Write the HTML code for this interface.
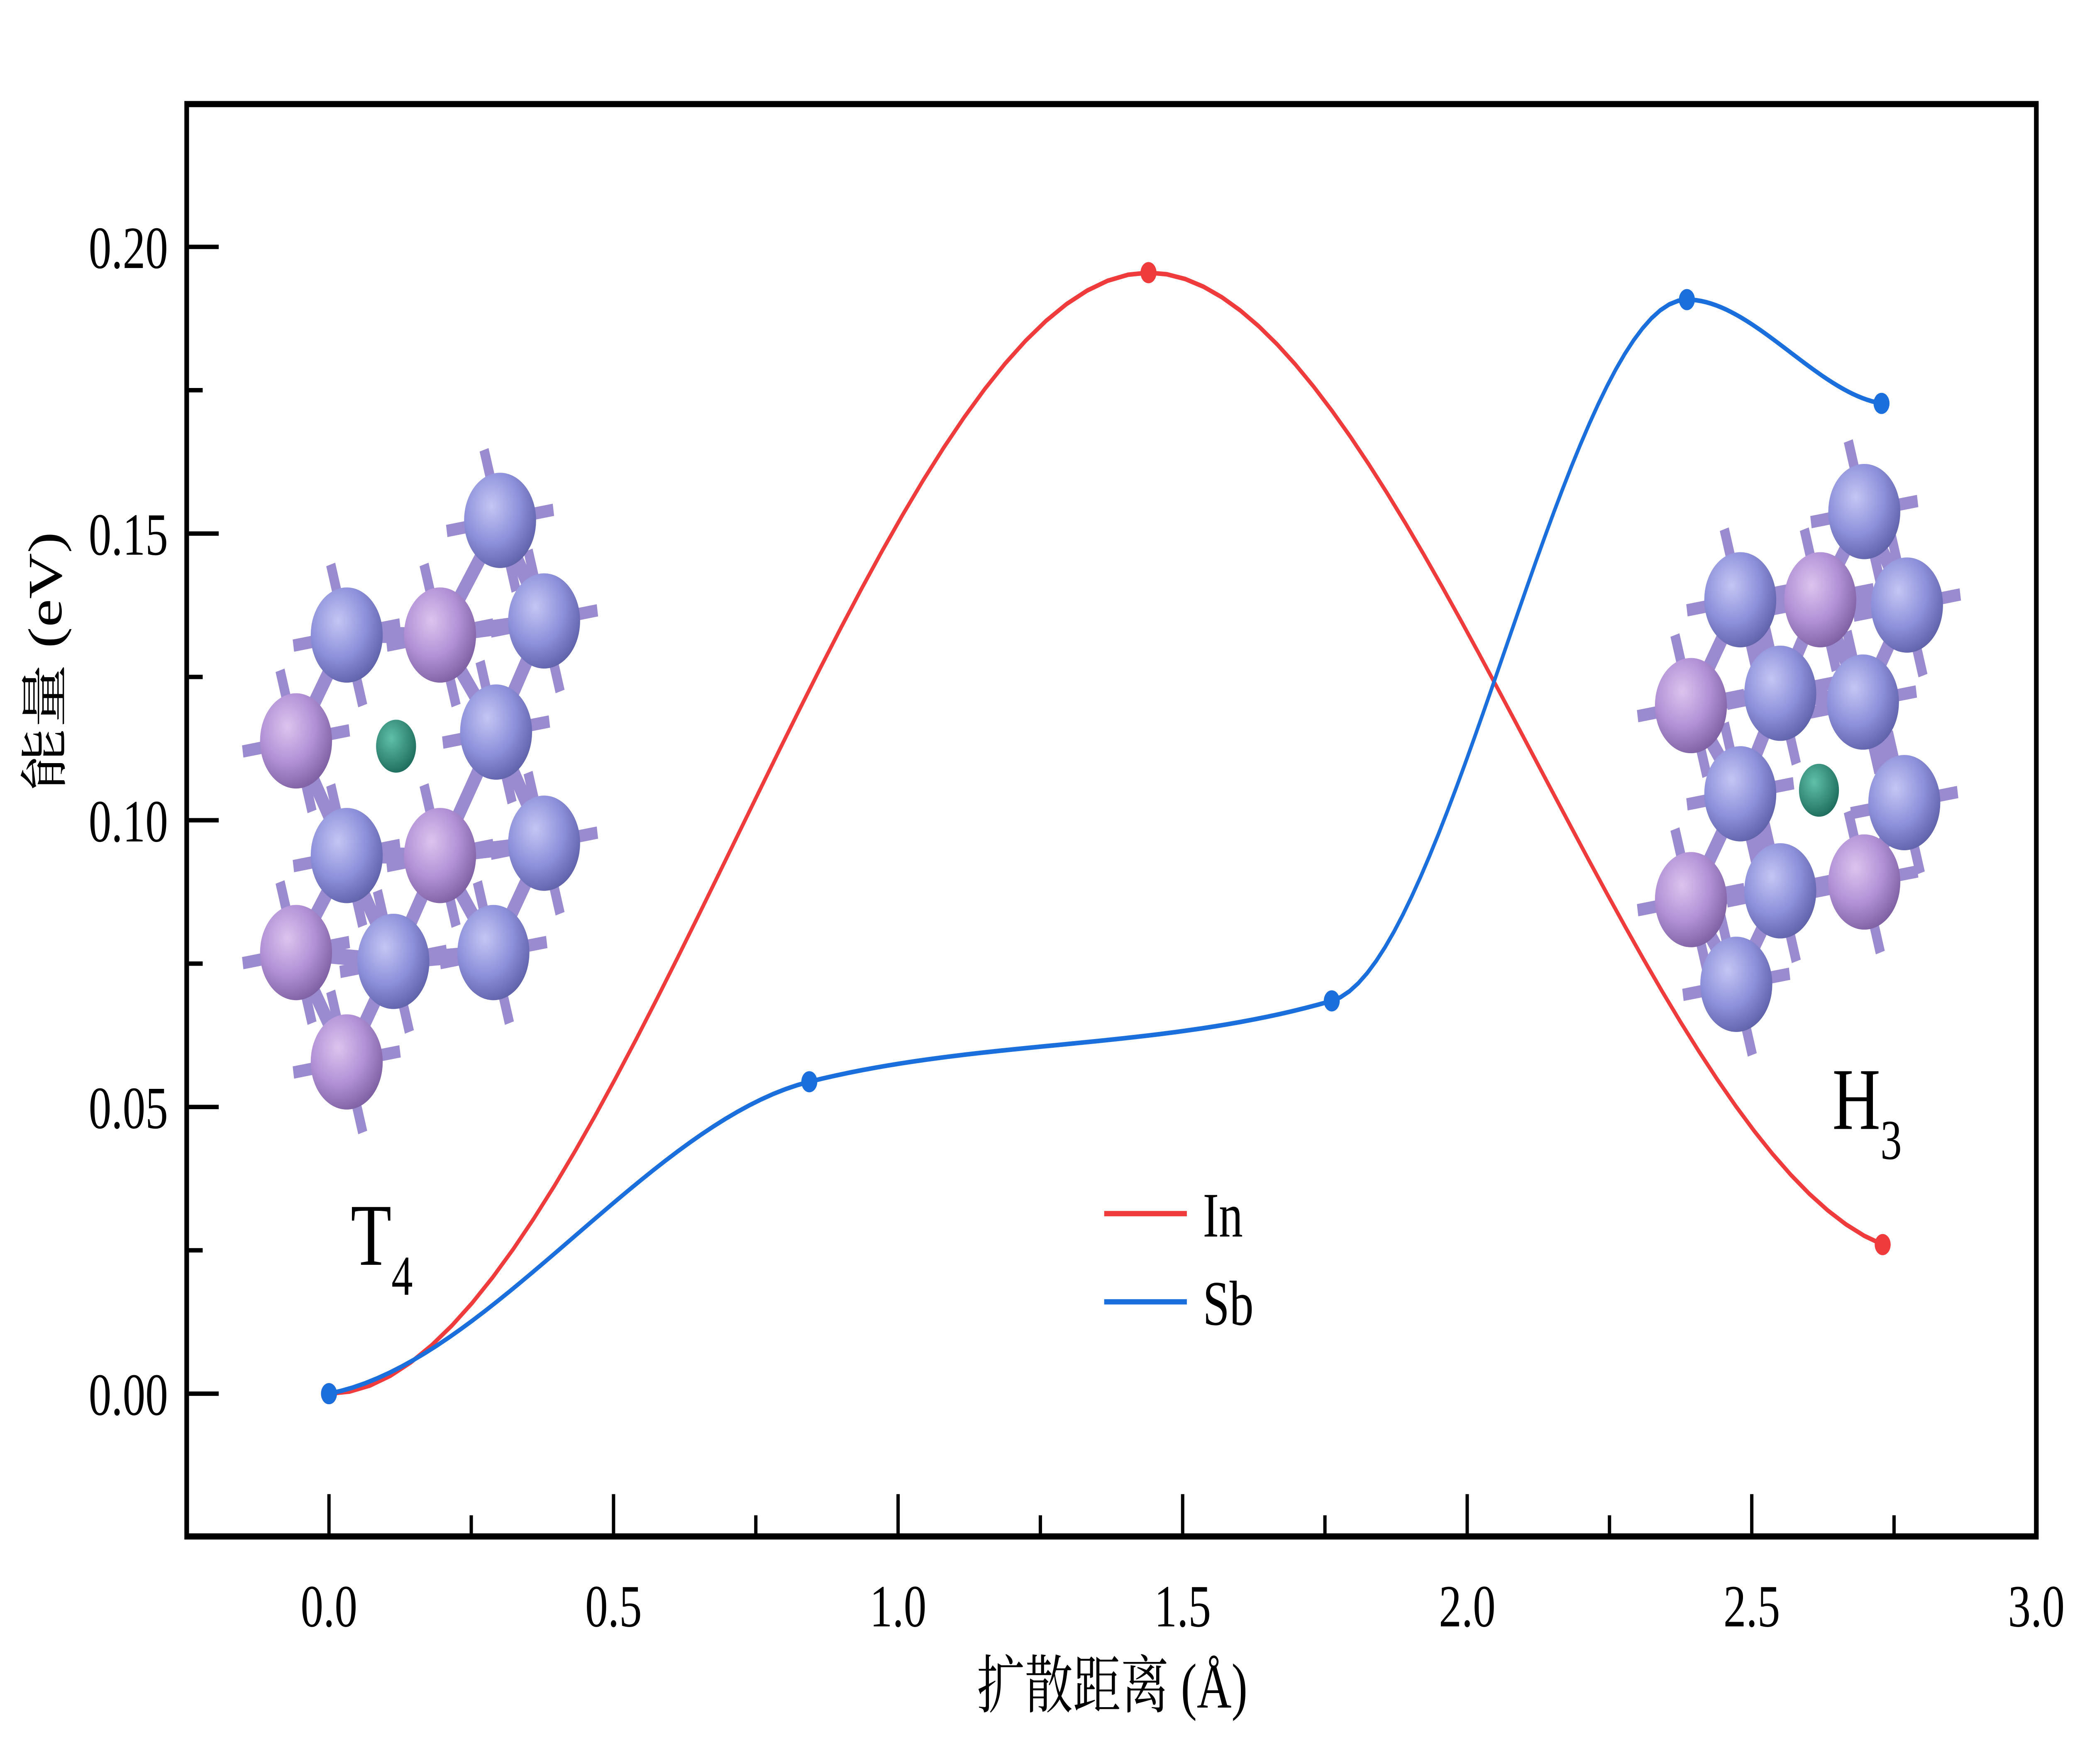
<!DOCTYPE html>
<html><head><meta charset="utf-8">
<style>
html,body{margin:0;padding:0;background:#fff;width:100%;height:100%;overflow:hidden;}
svg{display:block;position:fixed;left:0;top:0;width:100vw;height:100vh;}
text{font-family:"Liberation Serif","Noto Serif CJK SC",serif;fill:#000;}
</style></head><body>
<svg id="chart" viewBox="0 0 1556 1000" preserveAspectRatio="none" xmlns="http://www.w3.org/2000/svg">
<defs>
<radialGradient id="gBlue" cx="0.38" cy="0.35" r="0.7"><stop offset="0" stop-color="#c4c6f4"/><stop offset="0.55" stop-color="#8e91db"/><stop offset="1" stop-color="#5e60a8"/></radialGradient>
<radialGradient id="gPurp" cx="0.38" cy="0.35" r="0.7"><stop offset="0" stop-color="#dcc4ee"/><stop offset="0.55" stop-color="#b190d6"/><stop offset="1" stop-color="#7c5fa0"/></radialGradient>
<radialGradient id="gGreen" cx="0.38" cy="0.35" r="0.7"><stop offset="0" stop-color="#5fc0a8"/><stop offset="1" stop-color="#1d6b5c"/></radialGradient>
</defs>
<g id="mols"></g>
<g id="axes"></g>
<g id="series"></g>
<g id="labels"></g>
</svg>
<script>
const xTicks=[0.0,0.5,1.0,1.5,2.0,2.5,3.0];
const xTickLabels=["0.0","0.5","1.0","1.5","2.0","2.5","3.0"];
const yTicks=[0.00,0.05,0.10,0.15,0.20];
const yTickLabels=["0.00","0.05","0.10","0.15","0.20"];
const inX=[0,1.44,2.73];
const inY=[0,0.1955,0.026];
const sbX=[0,0.844,1.762,2.386,2.728];
const sbY=[0,0.0544,0.0685,0.1908,0.1727];

const NS="http://www.w3.org/2000/svg";
const L=140,R=1527,T=59,B=871;
const xMin=-0.25,xMax=3.0,yMin=-0.0249,yMax=0.2249;
function sx(v){return L+(v-xMin)/(xMax-xMin)*(R-L);}
function sy(v){return B-(v-yMin)/(yMax-yMin)*(B-T);}
function mk(tag,attrs,parent){const e=document.createElementNS(NS,tag);for(const k in attrs)e.setAttribute(k,attrs[k]);parent.appendChild(e);return e;}

const axes=document.getElementById('axes');
const frame=mk('rect',{x:L,y:T,width:R-L,height:B-T,fill:'none',stroke:'#000','stroke-width':3.5},axes);


for(let v=-0.25;v<=3.001;v+=0.25){
  const major=Math.abs(v*2-Math.round(v*2))<1e-6;
  const t=mk('line',{x1:sx(v),x2:sx(v),y1:B,y2:B-(major?24:12),stroke:'#000','stroke-width':2.5},axes);
  
  
}
for(let v=-0.025;v<=0.2251;v+=0.025){
  const major=Math.abs(v*20-Math.round(v*20))<1e-6;
  const t=mk('line',{x1:L,x2:L+(major?24:12),y1:sy(v),y2:sy(v),stroke:'#000','stroke-width':2.5},axes);
  
  
}
const labels=document.getElementById('labels');
xTicks.forEach((v,i)=>{
  const t=mk('text',{x:sx(v),y:922,'font-size':34,'text-anchor':'middle'},labels);
  t.textContent=xTickLabels[i];
  
  
});
yTicks.forEach((v,i)=>{
  const t=mk('text',{x:126,y:sy(v)+12,'font-size':34,'text-anchor':'end'},labels);
  t.textContent=yTickLabels[i];
  
  
});
let t=mk('text',{x:834,y:968,'font-size':36,'text-anchor':'middle'},labels);
t.textContent='扩散距离 (Å)';


t=mk('text',{x:0,y:0,'font-size':36,'text-anchor':'middle',transform:'translate(46,375) rotate(-90)'},labels);
t.textContent='能量 (eV)';



function curve(xs,ys){
  const n=xs.length,d=[],m=[];
  for(let i=0;i<n-1;i++)d.push((ys[i+1]-ys[i])/(xs[i+1]-xs[i]));
  m[0]=0;
  for(let i=1;i<n-1;i++){m[i]=(d[i-1]*d[i]<=0)?0:2/(1/d[i-1]+1/d[i]);}
  m[n-1]=d[n-2]*0.3;
  if(n>3){m[0]=d[0]*0.3;}
  let p='';
  for(let i=0;i<n-1;i++){
    const h=xs[i+1]-xs[i];
    for(let k=0;k<=40;k++){
      const s=k/40,h00=2*s*s*s-3*s*s+1,h10=s*s*s-2*s*s+s,h01=-2*s*s*s+3*s*s,h11=s*s*s-s*s;
      const x=xs[i]+s*h,y=h00*ys[i]+h10*h*m[i]+h01*ys[i+1]+h11*h*m[i+1];
      p+=(p?'L':'M')+sx(x).toFixed(2)+','+sy(y).toFixed(2);
    }
  }
  return p;
}
const series=document.getElementById('series');
[[inX,inY,'#ef3b3b','in'],[sbX,sbY,'#1a6fdc','sb']].forEach(([xs,ys,c,nm])=>{
  const p=mk('path',{d:curve(xs,ys),fill:'none',stroke:c,'stroke-width':2.6},series);
  
  
  xs.forEach((x,i)=>{
    const pt=mk('circle',{cx:sx(x),cy:sy(ys[i]),r:6,fill:c},series);
    
    
  });
});
[['In','#ef3b3b',688],['Sb','#1a6fdc',738]].forEach(([n,c,y])=>{
  const g=mk('g',{},labels);
  
  
  mk('line',{x1:828,x2:890,y1:y,y2:y,stroke:c,'stroke-width':3},g);
  const tx=mk('text',{x:902,y:y+13,'font-size':36},g);
  tx.textContent=n;
});
t=mk('text',{x:263,y:717,'font-size':50},labels);
t.innerHTML='T<tspan font-size="32" dy="17">4</tspan>';


t=mk('text',{x:1374,y:640,'font-size':50},labels);
t.innerHTML='H<tspan font-size="32" dy="17">3</tspan>';



const mols=document.getElementById('mols');
function drawMol(name,blue,purp,green){
  const g=mk('g',{},mols);
  
  
  const all=blue.concat(purp);
  for(let i=0;i<all.length;i++)for(let j=i+1;j<all.length;j++){
    const dx=all[i][0]-all[j][0],dy=all[i][1]-all[j][1],dd=Math.hypot(dx,dy);
    if(dd<90)mk('line',{x1:all[i][0],y1:all[i][1],x2:all[j][0],y2:all[j][1],stroke:'#9a8ad0','stroke-width':9},g);
  }
  all.forEach(a=>{
    [[-1,0.15],[1,-0.15],[0.3,1],[-0.3,-1]].forEach(([ux,uy])=>{
      mk('line',{x1:a[0],y1:a[1],x2:a[0]+ux*40,y2:a[1]+uy*40,stroke:'#9a8ad0','stroke-width':7},g);
    });
  });
  purp.forEach(a=>mk('circle',{cx:a[0],cy:a[1],r:27,fill:'url(#gPurp)'},g));
  blue.forEach(a=>mk('circle',{cx:a[0],cy:a[1],r:27,fill:'url(#gBlue)'},g));
  mk('circle',{cx:green[0],cy:green[1],r:15,fill:'url(#gGreen)'},g);
}
drawMol('t4-structure',
 [[375,295],[260,360],[408,352],[372,415],[260,485],[408,478],[295,545],[370,540]],
 [[330,360],[222,420],[330,485],[222,540],[260,602]],[297,423]);
drawMol('h3-structure',
 [[1398,290],[1305,340],[1430,343],[1335,393],[1397,398],[1305,450],[1428,455],[1335,505],[1302,558]],
 [[1365,340],[1268,400],[1268,510],[1398,500]],[1364,448]);
</script>
</body></html>
